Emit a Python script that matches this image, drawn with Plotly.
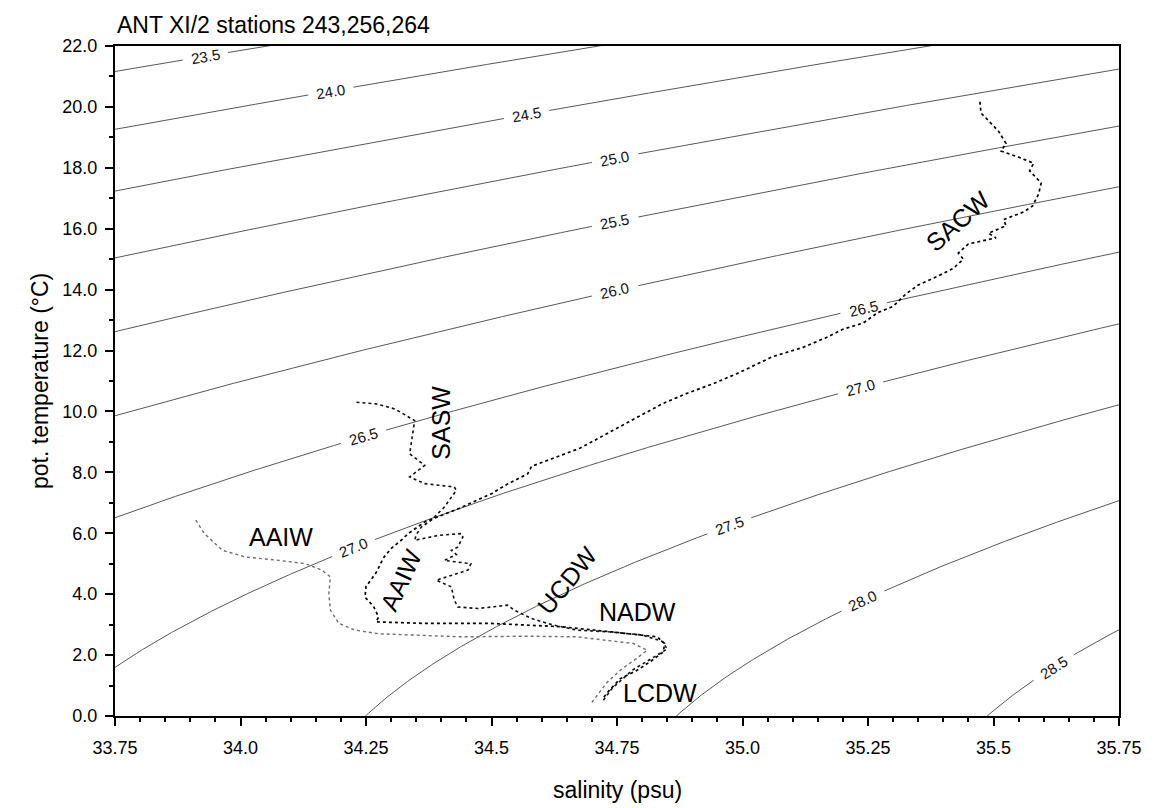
import numpy as np
import plotly.graph_objects as go

# ---- axis ticks -------------------------------------------------------------
sal_ticks = [33.75, 34.0, 34.25, 34.5, 34.75, 35.0, 35.25, 35.5, 35.75]
sal_ticktext = ["33.75", "34.0", "34.25", "34.5", "34.75", "35.0", "35.25", "35.5", "35.75"]
temp_ticks = [0, 2, 4, 6, 8, 10, 12, 14, 16, 18, 20, 22]

# ---- isopycnal levels (sigma-theta) and where each is labelled ------------
sigma_levels = [23.5, 24.0, 24.5, 25.0, 25.5, 26.0, 26.5, 27.0, 27.5, 28.0, 28.5]
sigma_label_sal = {
    23.5: [33.93], 24.0: [34.18], 24.5: [34.57], 25.0: [34.746], 25.5: [34.746],
    26.0: [34.746], 26.5: [34.245, 35.241], 27.0: [34.225, 35.235],
    27.5: [34.974], 28.0: [35.24], 28.5: [35.62],
}

# ---- theta/S profiles -------------------------------------------------------
st243_sal = [35.473, 35.475, 35.49, 35.51, 35.525, 35.515, 35.55, 35.58, 35.572, 35.595,
             35.59, 35.578, 35.56, 35.52, 35.525, 35.49, 35.505, 35.45, 35.43, 35.44,
             35.42, 35.39, 35.35, 35.325, 35.30, 35.27, 35.24, 35.20, 35.17, 35.12,
             35.06, 34.99, 34.94, 34.89, 34.84, 34.79, 34.756, 34.71, 34.677, 34.637,
             34.58, 34.572, 34.53, 34.50, 34.433, 34.367, 34.335, 34.32, 34.30, 34.285,
             34.27, 34.25, 34.248, 34.265, 34.275, 34.27, 34.37, 34.50, 34.64, 34.74,
             34.83, 34.845, 34.842, 34.82, 34.79, 34.757, 34.735, 34.722]
st243_theta = [20.17, 19.80, 19.55, 19.20, 18.80, 18.55, 18.35, 18.15, 17.90, 17.50,
               17.15, 16.75, 16.55, 16.30, 16.10, 15.85, 15.70, 15.50, 15.20, 15.00,
               14.70, 14.45, 14.15, 13.85, 13.45, 13.25, 12.90, 12.70, 12.45, 12.10,
               11.80, 11.25, 10.90, 10.60, 10.25, 9.80, 9.50, 9.10, 8.80, 8.55,
               8.20, 7.95, 7.60, 7.30, 6.80, 6.37, 6.00, 5.77, 5.50, 5.20,
               4.70, 4.25, 3.90, 3.60, 3.25, 3.09, 3.04, 3.04, 2.93, 2.76,
               2.60, 2.38, 2.10, 1.83, 1.50, 1.23, 0.85, 0.58]

st256_sal = [34.231, 34.27, 34.308, 34.347, 34.344, 34.34, 34.337, 34.367, 34.337, 34.367,
             34.426, 34.43, 34.406, 34.38, 34.36, 34.35, 34.347, 34.394, 34.44, 34.443,
             34.433, 34.42, 34.43, 34.406, 34.459, 34.453, 34.39, 34.42, 34.426, 34.433,
             34.473, 34.532, 34.545, 34.58, 34.62, 34.67, 34.737, 34.80, 34.84, 34.85,
             34.82, 34.78, 34.74, 34.722]
st256_theta = [10.30, 10.25, 10.08, 9.70, 9.38, 9.00, 8.61, 8.23, 7.85, 7.63,
               7.52, 7.41, 6.86, 6.43, 6.20, 5.95, 5.77, 5.93, 5.99, 5.88,
               5.55, 5.44, 5.30, 5.11, 5.00, 4.79, 4.46, 4.24, 3.80, 3.58,
               3.53, 3.64, 3.48, 3.20, 3.00, 2.82, 2.76, 2.66, 2.45, 2.20,
               1.90, 1.50, 0.90, 0.50]

st264_sal = [33.911, 33.928, 33.964, 34.01, 34.077, 34.13, 34.162, 34.179, 34.176, 34.179,
             34.196, 34.228, 34.275, 34.34, 34.44, 34.572, 34.67, 34.783, 34.81, 34.79,
             34.76, 34.73, 34.70]
st264_theta = [6.43, 5.99, 5.44, 5.22, 5.11, 5.00, 4.79, 4.57, 4.02, 3.48,
               3.04, 2.82, 2.70, 2.66, 2.60, 2.62, 2.60, 2.38, 2.16, 1.90,
               1.55, 1.10, 0.45]

# ---- water-mass names -------------------------------------------------------
mass_names = ["SACW", "SASW", "AAIW", "AAIW", "UCDW", "NADW", "LCDW"]
mass_sal = [35.429, 34.40, 34.081, 34.32, 34.651, 34.79, 34.835]
mass_theta = [16.26, 9.64, 5.87, 4.46, 4.46, 3.41, 0.75]
mass_angle = [-42, -90, 0, -65, -51, 0, 0]

# ---- figure geometry --------------------------------------------------------
W, H = 1154, 808
ML, MR, MT, MB = 115, 29, 46, 92
SMIN, SMAX, TMIN, TMAX = 33.75, 35.75, 0.0, 22.0
PW, PH = W - ML - MR, H - MT - MB
FONT = "Liberation Sans, Arial, Helvetica, sans-serif"


def px(s):
    return ML + (np.asarray(s) - SMIN) / (SMAX - SMIN) * PW


def py(t):
    return MT + PH - (np.asarray(t) - TMIN) / (TMAX - TMIN) * PH


def sigma_theta(S, T):
    """UNESCO (EOS-80) potential density anomaly at surface pressure."""
    rw = (999.842594 + 6.793952e-2 * T - 9.095290e-3 * T**2 + 1.001685e-4 * T**3
          - 1.120083e-6 * T**4 + 6.536332e-9 * T**5)
    A = (8.24493e-1 - 4.0899e-3 * T + 7.6438e-5 * T**2 - 8.2467e-7 * T**3
         + 5.3875e-9 * T**4)
    B = -5.72466e-3 + 1.0227e-4 * T - 1.6546e-6 * T**2
    C = 4.8314e-4
    return rw + A * S + B * S**1.5 + C * S**2 - 1000.0


def theta_on_isopycnal(S, sig):
    S = np.asarray(S, dtype=float)
    lo = np.full_like(S, -2.5)
    hi = np.full_like(S, 36.0)
    for _ in range(60):
        mid = 0.5 * (lo + hi)
        above = sigma_theta(S, mid) > sig
        lo = np.where(above, mid, lo)
        hi = np.where(above, hi, mid)
    return 0.5 * (lo + hi)


fig = go.Figure()
annotations = []

# isopycnals with inline labels
s_grid = np.linspace(SMIN, SMAX, 801)
for lvl in sigma_levels:
    t_grid = theta_on_isopycnal(s_grid, lvl)
    xs = px(s_grid)
    ys = py(t_grid)
    keep = np.ones_like(s_grid, dtype=bool)
    for sl in sigma_label_sal[lvl]:
        tl = float(theta_on_isopycnal([sl], lvl)[0])
        lx, ly = float(px(sl)), float(py(tl))
        keep &= np.hypot(xs - lx, ys - ly) > 23
        ds = 0.01
        t1 = float(theta_on_isopycnal([sl - ds], lvl)[0])
        t2 = float(theta_on_isopycnal([sl + ds], lvl)[0])
        dx = float(px(sl + ds) - px(sl - ds))
        dy = float(py(t2) - py(t1))
        ang = np.degrees(np.arctan2(dy, dx))
        annotations.append(dict(
            x=sl, y=tl, xref="x", yref="y", text=f"{lvl:.1f}", showarrow=False,
            textangle=ang, font=dict(family=FONT, size=15, color="#111"),
            xanchor="center", yanchor="middle"))
    t_plot = np.where(keep & (t_grid > -1) & (t_grid < 23), t_grid, np.nan)
    fig.add_trace(go.Scatter(
        x=s_grid, y=t_plot, mode="lines", connectgaps=False,
        line=dict(color="#3a3a3a", width=0.85), hoverinfo="skip", showlegend=False))

# station profiles
fig.add_trace(go.Scatter(x=st264_sal, y=st264_theta, mode="lines", name="264",
                         line=dict(color="#6e6e6e", width=1.4, dash="dot"),
                         showlegend=False))
fig.add_trace(go.Scatter(x=st256_sal, y=st256_theta, mode="lines", name="256",
                         line=dict(color="#111", width=1.6, dash="dot"),
                         showlegend=False))
fig.add_trace(go.Scatter(x=st243_sal, y=st243_theta, mode="lines", name="243",
                         line=dict(color="#000", width=1.7, dash="dot"),
                         showlegend=False))

for name, s, t, a in zip(mass_names, mass_sal, mass_theta, mass_angle):
    annotations.append(dict(x=s, y=t, xref="x", yref="y", text=name, showarrow=False,
                            textangle=a, font=dict(family=FONT, size=25, color="#000"),
                            xanchor="center", yanchor="middle"))

# title and axis titles
annotations.append(dict(x=0, y=1, xref="paper", yref="paper", text="ANT XI/2 stations 243,256,264",
                        showarrow=False, xanchor="left", yanchor="bottom", yshift=6,
                        font=dict(family=FONT, size=23, color="#000")))
annotations.append(dict(x=0.5, y=0, xref="paper", yref="paper", text="salinity (psu)",
                        showarrow=False, xanchor="center", yanchor="middle", yshift=-74,
                        font=dict(family=FONT, size=23, color="#000")))
annotations.append(dict(x=0, y=0.5, xref="paper", yref="paper", text="pot. temperature (°C)",
                        showarrow=False, xanchor="center", yanchor="middle", xshift=-75,
                        textangle=-90, font=dict(family=FONT, size=23, color="#000")))

axis_common = dict(showline=True, mirror=True, linecolor="#000", linewidth=2,
                   ticks="outside", ticklen=8, tickwidth=1.5, tickcolor="#000",
                   showgrid=False, zeroline=False,
                   tickfont=dict(family=FONT, size=18, color="#000"))

fig.update_layout(
    width=W, height=H,
    margin=dict(l=ML, r=MR, t=MT, b=MB, pad=0),
    paper_bgcolor="white", plot_bgcolor="white",
    annotations=annotations,
    xaxis=dict(range=[SMIN, SMAX], tickvals=sal_ticks, ticktext=sal_ticktext,
               minor=dict(dtick=0.05, ticks="outside", ticklen=4, tickcolor="#000"),
               ticklabelstandoff=6, **axis_common),
    yaxis=dict(range=[TMIN, TMAX], tickvals=temp_ticks, tickformat=".1f",
               minor=dict(dtick=1, ticks="outside", ticklen=4, tickcolor="#000"),
               ticklabelstandoff=4, **axis_common),
)

fig.write_html("out.html")
